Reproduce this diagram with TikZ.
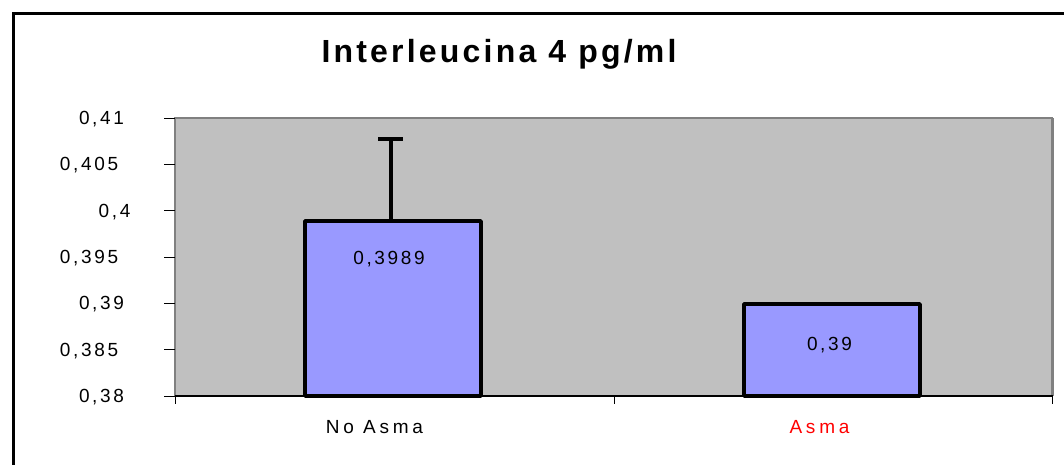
\documentclass[tikz,border=0pt]{standalone}
\usepackage{fontspec}
\setmainfont{Liberation Sans}
\newfontfamily\ttlfont[LetterSpace=10]{Liberation Sans}
\newfontfamily\tickfont[LetterSpace=14]{Liberation Sans}
\newfontfamily\datafont[LetterSpace=14]{Liberation Sans}
\newfontfamily\catfont[LetterSpace=20]{Liberation Sans}
\definecolor{plotgray}{HTML}{C0C0C0}
\definecolor{plotborder}{HTML}{808080}
\definecolor{barblue}{HTML}{9999FF}
\definecolor{catred}{HTML}{FF0000}
\tikzset{
  titletext/.style={anchor=base, inner sep=0pt, font=\ttlfont\bfseries\fontsize{32}{37}\selectfont},
  ticktext/.style={anchor=base, inner sep=0pt, font=\tickfont\fontsize{19}{22}\selectfont},
  datatext/.style={anchor=base, inner sep=0pt, font=\datafont\fontsize{19}{22}\selectfont},
  cattext/.style={anchor=base, inner sep=0pt, font=\catfont\fontsize{19}{22}\selectfont},
  barbox/.style={fill=barblue, draw=black, line width=3.5pt, line join=round},
  tickline/.style={draw=black, line width=1pt},
  errline/.style={draw=black, line width=3.5pt},
}
\begin{document}
\begin{tikzpicture}[x=1pt,y=-1pt]
\useasboundingbox (0,0) rectangle (1064,464);
\fill[white] (0,0) rectangle (1064,464);
% outer frame
\draw[line width=3pt, line cap=rect] (13.5,470) -- (13.5,13.5) -- (1070,13.5);
% plot area
\fill[plotgray] (175,118) rectangle (1053,396);
\draw[plotborder, line width=2pt] (175,396) -- (175,118) -- (1053,118);
\draw[plotborder, line width=3pt] (1052.5,118) -- (1052.5,396);
% y ticks
\foreach \k in {0,...,6} {
  \draw[tickline] (164,{118+\k*46.333}) -- (175,{118+\k*46.333});
}
% x axis
\draw[black, line width=1.5pt] (175,396) -- (1053,396);
\foreach \xx in {175,614,1052} {
  \draw[tickline] (\xx,396) -- (\xx,404);
}
% tick labels
\node[ticktext] (t41)  at (101.5,124.5) {0,41};
\node[ticktext] (t405) at (89,170.8) {0,405};
\node[ticktext] (t40)  at (114.5,217.2) {0,4};
\node[ticktext] (t395) at (89,263.5) {0,395};
\node[ticktext] (t39)  at (101.5,309.8) {0,39};
\node[ticktext] (t385) at (89,356.2) {0,385};
\node[ticktext] (t38)  at (101.5,402.5) {0,38};
% bars
\draw[barbox] (305,396) rectangle (481,221);
\draw[barbox] (744,396) rectangle (920,304);
% error bars
\coordinate (e1top) at (391,139);
\coordinate (e1bot) at (391,221);
\draw[errline] (e1bot) -- (e1top);
\draw[errline] (378,139) -- (403,139);
\draw[line width=2pt] (820,303) -- (845,303);
% data labels
\node[datatext] (d1) at (389,264) {0,3989};
\node[datatext] (d2) at (829.5,350) {0,39};
% category labels
\node[cattext] (c1) at (374.5,433) {No Asma};
\node[cattext, text=catred] (c2) at (819.5,433) {Asma};
% title
\node[titletext] (title) at (499,62) {Interleucina 4 pg/ml};
\end{tikzpicture}
\end{document}
